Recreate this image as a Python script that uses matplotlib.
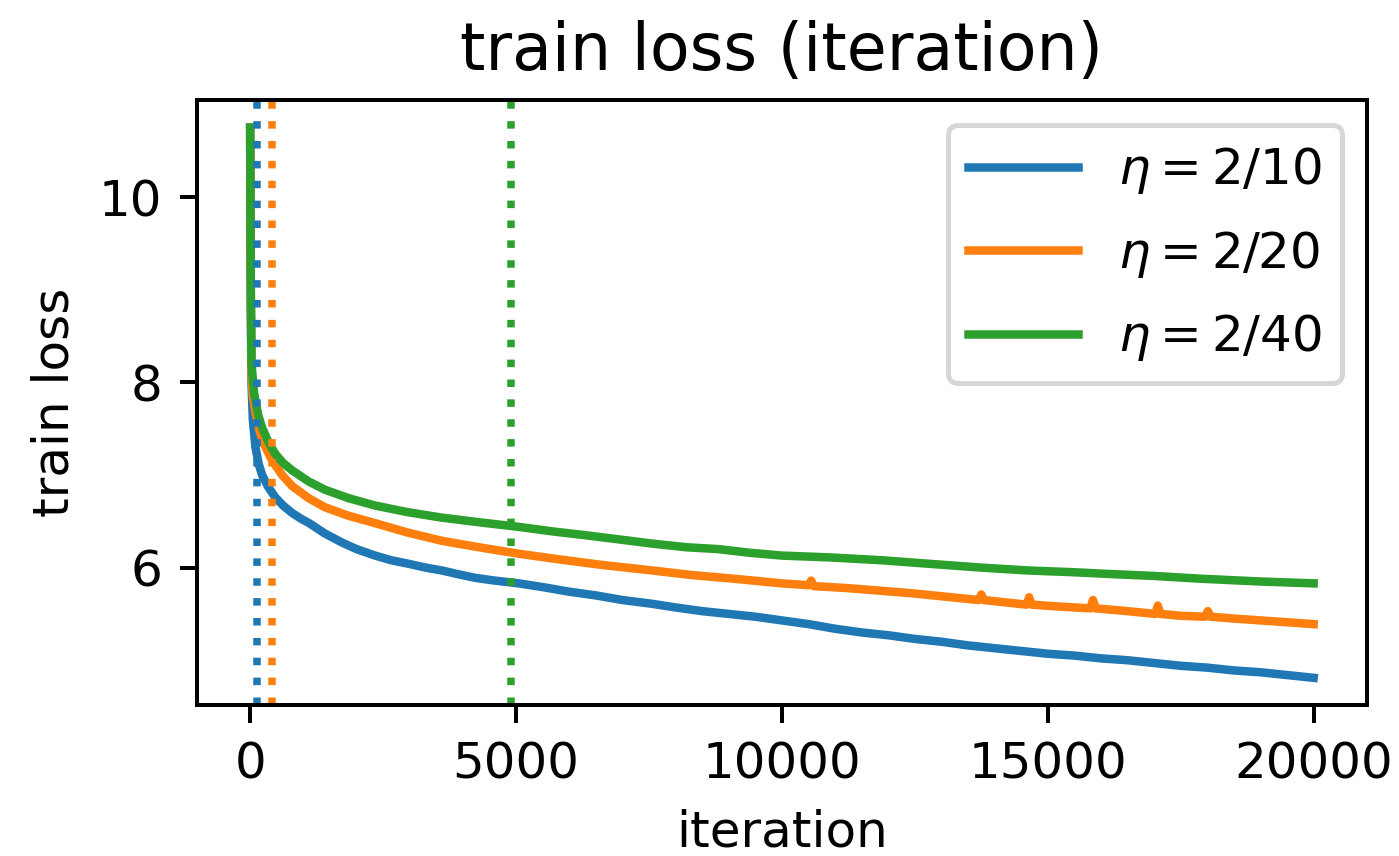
import matplotlib
matplotlib.use("Agg")
import matplotlib.pyplot as plt

iters_blue = [0, 10, 25, 50, 100, 160, 225, 330, 470, 620, 790, 950, 1110, 1400, 1730,
              2000, 2350, 2650, 2990, 3300, 3600, 3900, 4230, 4600, 5050, 5500, 6000,
              6500, 7000, 7550, 8000, 8500, 9000, 9500, 10000, 10500, 11000, 11500,
              12000, 12500, 13000, 13500, 14000, 14500, 15000, 15500, 16000, 16500,
              17000, 17500, 18000, 18500, 19000, 19500, 20000]
loss_blue = [10.75, 9.0, 8.0, 7.6, 7.3, 7.12, 7.0, 6.88, 6.76, 6.67, 6.59, 6.53, 6.48, 6.37, 6.27,
             6.2, 6.13, 6.08, 6.04, 6.0, 5.97, 5.93, 5.89, 5.86, 5.83, 5.79, 5.74,
             5.7, 5.65, 5.61, 5.57, 5.53, 5.5, 5.47, 5.43, 5.39, 5.34, 5.3,
             5.27, 5.23, 5.2, 5.16, 5.13, 5.1, 5.07, 5.05, 5.02, 5.0,
             4.97, 4.94, 4.92, 4.89, 4.87, 4.84, 4.81]

iters_orange = [0, 10, 25, 50, 100, 175, 250, 330, 410, 600, 790, 1100, 1410, 1850, 2350,
                2950, 3600, 4300, 5050, 5800, 6600, 7550, 8300, 9100, 10000, 10500, 10550,
                10600, 11200, 11870, 12500, 13180, 13700, 13750, 13800, 14120, 14600,
                14650, 14700, 15200, 15800, 15850, 15900, 16500, 17020, 17070, 17120,
                17500, 17960, 18010, 18060, 18500, 19000, 19500, 20000]
loss_orange = [10.75, 9.1, 8.1, 7.85, 7.68, 7.48, 7.35, 7.25, 7.16, 7.0, 6.88, 6.75, 6.65, 6.56, 6.48,
               6.38, 6.29, 6.22, 6.15, 6.09, 6.03, 5.97, 5.92, 5.88, 5.83, 5.81, 5.86,
               5.8, 5.78, 5.75, 5.72, 5.68, 5.65, 5.71, 5.65, 5.63, 5.6,
               5.68, 5.6, 5.58, 5.56, 5.65, 5.56, 5.53, 5.5, 5.59, 5.5,
               5.48, 5.47, 5.53, 5.47, 5.45, 5.43, 5.41, 5.39]

iters_green = [0, 10, 25, 75, 150, 225, 340, 470, 620, 790, 1100, 1410, 1850, 2350, 2950,
               3600, 4300, 5050, 5700, 6300, 7000, 7550, 8200, 8800, 9400, 10000, 10900,
               11870, 12800, 13750, 14600, 15490, 16200, 17000, 17880, 19000, 20000]
loss_green = [10.75, 9.2, 8.2, 7.88, 7.65, 7.51, 7.36, 7.23, 7.13, 7.05, 6.93, 6.84, 6.75, 6.67, 6.6,
              6.54, 6.49, 6.44, 6.39, 6.35, 6.3, 6.26, 6.22, 6.2, 6.16, 6.13, 6.11,
              6.08, 6.04, 6.0, 5.97, 5.95, 5.93, 5.91, 5.88, 5.85, 5.83]

# iteration where each run is marked
marks = [120, 420, 4900]
labels = [r"$\eta = 2/10\;$", r"$\eta = 2/20\;$", r"$\eta = 2/40\;$"]
colors = ["C0", "C1", "C2"]

fig, ax = plt.subplots(figsize=(1399 / 360, 856 / 360), dpi=360)
fig.subplots_adjust(left=0.1408, right=0.977, top=0.883, bottom=0.176)

series = [(iters_blue, loss_blue), (iters_orange, loss_orange), (iters_green, loss_green)]
for (x, y), lab, c in zip(series, labels, colors):
    ax.plot(x, y, color=c, lw=1.7, label=lab)

for m, c in zip(marks, colors):
    ax.axvline(m, color=c, linestyle=":", lw=1.5)

ax.set_xticks([0, 5000, 10000, 15000, 20000])
ax.set_yticks([6, 8, 10])
ax.set_xlabel("iteration")
ax.set_ylabel("train loss")
ax.set_title("train loss (iteration)", fontsize=13)
ax.legend(loc="upper right", labelspacing=0.65, handlelength=2.2, handletextpad=0.8)

fig.savefig("out.png", dpi=360)
